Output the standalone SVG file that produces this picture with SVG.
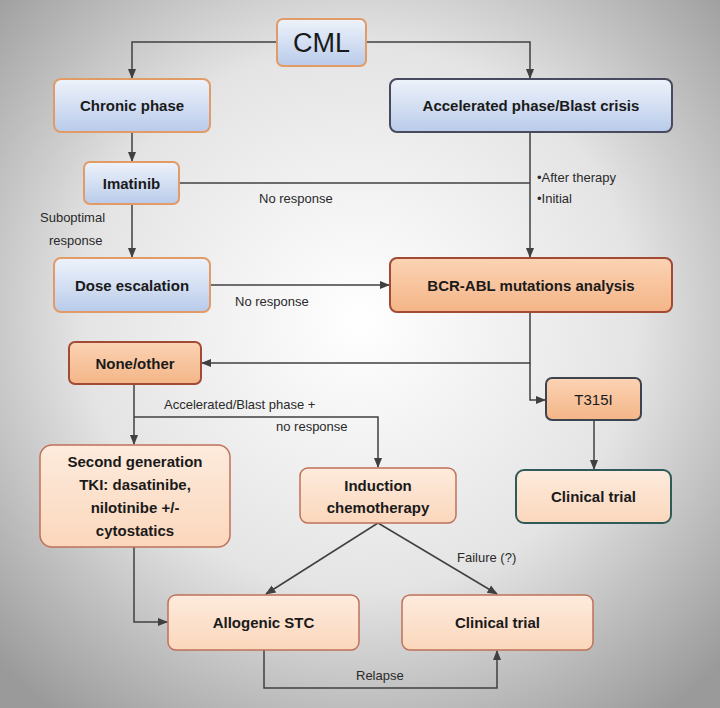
<svg xmlns="http://www.w3.org/2000/svg" width="720" height="708" viewBox="0 0 720 708">
<defs>
<radialGradient id="bg" cx="50%" cy="45%" r="70%"><stop offset="0" stop-color="#ffffff"/><stop offset="0.55" stop-color="#e4e4e4"/><stop offset="1" stop-color="#9a9a9a"/></radialGradient>
<linearGradient id="blue" x1="0" y1="0" x2="0" y2="1"><stop offset="0" stop-color="#eef3fb"/><stop offset="1" stop-color="#b9cbea"/></linearGradient>
<linearGradient id="orange" x1="0" y1="0" x2="0" y2="1"><stop offset="0" stop-color="#fbd3b4"/><stop offset="1" stop-color="#f4b587"/></linearGradient>
<linearGradient id="peach" x1="0" y1="0" x2="0" y2="1"><stop offset="0" stop-color="#fdebdd"/><stop offset="1" stop-color="#fbd7bc"/></linearGradient>
<marker id="ar" viewBox="0 0 10 10" refX="9" refY="5" markerWidth="7" markerHeight="7" orient="auto"><path d="M0,1 L10,5 L0,9 z" fill="#404040"/></marker>
</defs>
<style>
.b{fill:url(#blue);stroke:#e29a66;stroke-width:2}
.bd{fill:url(#blue);stroke:#4a4a5e;stroke-width:2}
.o{fill:url(#orange);stroke:#a24a34;stroke-width:2}
.o2{fill:url(#orange);stroke:#3d4450;stroke-width:2}
.p{fill:url(#peach);stroke:#c0705a;stroke-width:1.5}
.pt{fill:url(#peach);stroke:#2e5a5a;stroke-width:2}
text{font-family:"Liberation Sans",Arial,sans-serif;fill:#1a1a1a}
.t{font-weight:bold;font-size:15px;text-anchor:middle}
.l{font-size:13px;fill:#2a2a2a}
#conn path{fill:none;stroke:#404040;stroke-width:1.5}
</style>
<rect width="720" height="708" fill="url(#bg)"/>
<g id="conn">
<path d="M277,42 H132 V78" marker-end="url(#ar)"/>
<path d="M366,42 H530 V78" marker-end="url(#ar)"/>
<path d="M132,132 V161" marker-end="url(#ar)"/>
<path d="M132,204 V257" marker-end="url(#ar)"/>
<path d="M179,183 H530"/>
<path d="M530,132 V257" marker-end="url(#ar)"/>
<path d="M210,285 H389" marker-end="url(#ar)"/>
<path d="M530,312 V363 H202" marker-end="url(#ar)"/>
<path d="M530,363 V400 H545" marker-end="url(#ar)"/>
<path d="M594,420 V469" marker-end="url(#ar)"/>
<path d="M134,384 V444" marker-end="url(#ar)"/>
<path d="M134,417 H378 V467" marker-end="url(#ar)"/>
<path d="M378,523 L266,594" marker-end="url(#ar)"/>
<path d="M378,523 L497,594" marker-end="url(#ar)"/>
<path d="M134,547 V622 H167" marker-end="url(#ar)"/>
<path d="M264,650 V688 H497 V651" marker-end="url(#ar)"/>
</g>
<g id="cml"><rect class="b" x="277" y="19" width="89" height="47" rx="6"/><text x="321.5" y="52" font-size="27" text-anchor="middle">CML</text></g>
<g id="chronic"><rect class="b" x="54" y="79" width="156" height="53" rx="7"/><text class="t" x="132" y="111">Chronic phase</text></g>
<g id="accel"><rect class="bd" x="390" y="79" width="282" height="53" rx="7"/><text class="t" x="531" y="111">Accelerated phase/Blast crisis</text></g>
<g id="imatinib"><rect class="b" x="84" y="162" width="95" height="42" rx="6"/><text class="t" x="131.5" y="189">Imatinib</text></g>
<g id="dose"><rect class="b" x="54" y="258" width="156" height="54" rx="7"/><text class="t" x="132" y="291">Dose escalation</text></g>
<g id="bcr"><rect class="o" x="390" y="258" width="282" height="54" rx="7"/><text class="t" x="531" y="291">BCR-ABL mutations analysis</text></g>
<g id="none"><rect class="o" x="69" y="342" width="132" height="42" rx="6"/><text class="t" x="135" y="369">None/other</text></g>
<g id="t315i"><rect class="o2" x="546" y="378" width="95" height="42" rx="6"/><text x="593.5" y="405" font-size="15" text-anchor="middle">T315I</text></g>
<g id="ct1"><rect class="pt" x="516" y="470" width="155" height="53" rx="8"/><text class="t" x="593.5" y="502">Clinical trial</text></g>
<g id="second"><rect class="p" x="40" y="445" width="190" height="102" rx="12"/><text class="t" x="135" y="467">Second generation</text><text class="t" x="135" y="490">TKI: dasatinibe,</text><text class="t" x="135" y="513">nilotinibe +/-</text><text class="t" x="135" y="536">cytostatics</text></g>
<g id="induction"><rect class="p" x="300" y="468" width="156" height="55" rx="8"/><text class="t" x="378" y="491">Induction</text><text class="t" x="378" y="513">chemotherapy</text></g>
<g id="allo"><rect class="p" x="168" y="595" width="191" height="55" rx="8"/><text class="t" x="263.5" y="628">Allogenic STC</text></g>
<g id="ct2"><rect class="p" x="402" y="595" width="191" height="55" rx="8"/><text class="t" x="497.5" y="628">Clinical trial</text></g>
<text class="l" x="537" y="182">•After therapy</text>
<text class="l" x="537" y="203">•Initial</text>
<text class="l" x="259" y="203">No response</text>
<text class="l" x="40" y="222">Suboptimal</text>
<text class="l" x="49" y="245">response</text>
<text class="l" x="235" y="306">No response</text>
<text class="l" x="164" y="409">Accelerated/Blast phase +</text>
<text class="l" x="276" y="431">no response</text>
<text class="l" x="457" y="562">Failure (?)</text>
<text class="l" x="356" y="680">Relapse</text>
</svg>
